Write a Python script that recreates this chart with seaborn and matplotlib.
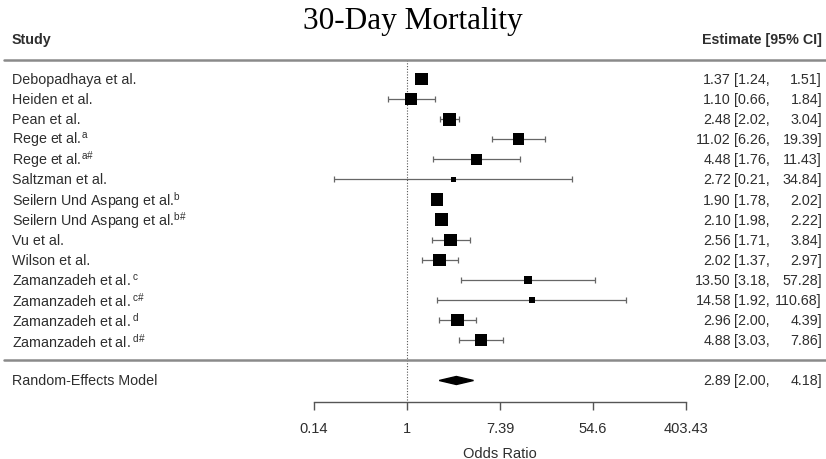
import numpy as np
import pandas as pd
import seaborn as sns
import matplotlib.pyplot as plt
import matplotlib.transforms as mtransforms
from matplotlib.patches import Polygon

studies = [
    "Debopadhaya et al.",
    "Heiden et al.",
    "Pean et al.",
    "Rege et al.$^{a}$",
    "Rege et al.$^{a\\#}$",
    "Saltzman et al.",
    "Seilern Und Aspang et al.$^{b}$",
    "Seilern Und Aspang et al.$^{b\\#}$",
    "Vu et al.",
    "Wilson et al.",
    "Zamanzadeh et al.$^{\\ c}$",
    "Zamanzadeh et al.$^{\\ c\\#}$",
    "Zamanzadeh et al.$^{\\ d}$",
    "Zamanzadeh et al.$^{\\ d\\#}$",
]
est = [1.37, 1.10, 2.48, 11.02, 4.48, 2.72, 1.90, 2.10, 2.56, 2.02, 13.50, 14.58, 2.96, 4.88]
lo = [1.24, 0.66, 2.02, 6.26, 1.76, 0.21, 1.78, 1.98, 1.71, 1.37, 3.18, 1.92, 2.00, 3.03]
hi = [1.51, 1.84, 3.04, 19.39, 11.43, 34.84, 2.02, 2.22, 3.84, 2.97, 57.28, 110.68, 4.39, 7.86]
weight = [8.4, 8.0, 9.6, 7.8, 6.6, 1.5, 8.6, 8.6, 8.8, 8.8, 3.2, 2.4, 8.6, 8.4]

re_label = "Random-Effects Model"
re_est, re_lo, re_hi = 2.89, 2.00, 4.18

tick_vals = [-2, 0, 2, 4, 6]
tick_labels = ["0.14", "1", "7.39", "54.6", "403.43"]

df = pd.DataFrame({"study": studies, "est": est, "lo": lo, "hi": hi, "weight": weight})
df["row"] = np.arange(len(df))
df["lest"] = np.log(df.est)
df["llo"] = np.log(df.lo)
df["lhi"] = np.log(df.hi)
re_row = len(df) + 1

sns.set_style("white")
plt.rcParams["font.family"] = ["Liberation Sans", "DejaVu Sans"]
plt.rcParams["mathtext.fontset"] = "custom"
plt.rcParams["mathtext.rm"] = "Liberation Sans"
plt.rcParams["mathtext.it"] = "Liberation Sans"

txt = "#2e2e2e"
fs = 10.3
fig = plt.figure(figsize=(8.26, 4.60), dpi=100)
ax = fig.add_axes([314 / 826, 57 / 460, 372 / 826, 403 / 460])
ax.set_xlim(-2, 6)
ax.set_ylim(16.07, -3.98)

# reference line at OR = 1
ax.vlines(0, -0.95, 16.07, colors="#555555", linestyles=(0, (1, 1.5)), lw=0.8)

# confidence intervals
ax.errorbar(
    df.lest, df.row,
    xerr=[df.lest - df.llo, df.lhi - df.lest],
    fmt="none", ecolor="#666666", elinewidth=0.9, capsize=2.2, capthick=0.9,
)
sns.scatterplot(
    data=df, x="lest", y="row", size="weight", sizes=(10, 90),
    marker="s", color="black", edgecolor="black", linewidth=0,
    legend=False, ax=ax, zorder=3,
)

# summary diamond
l_re = np.log([re_lo, re_est, re_hi])
ax.add_patch(Polygon(
    [(l_re[0], re_row), (l_re[1], re_row - 0.2), (l_re[2], re_row), (l_re[1], re_row + 0.2)],
    closed=True, color="black",
))

# axis styling
for s in ["top", "left", "right"]:
    ax.spines[s].set_visible(False)
ax.spines["bottom"].set_bounds(-2, 6)
ax.spines["bottom"].set_color("#555555")
ax.spines["bottom"].set_linewidth(1.0)
ax.set_yticks([])
ax.set_xticks(tick_vals)
ax.set_xticklabels(tick_labels, fontsize=10.5, color=txt)
ax.tick_params(axis="x", bottom=True, direction="out", length=5.5, width=1,
               color="#555555", pad=8)
ax.set_xlabel("Odds Ratio", fontsize=10.5, color=txt, labelpad=8)
ax.set_ylabel("")

# text columns
trans = mtransforms.blended_transform_factory(fig.transFigure, ax.transData)
for _, r in df.iterrows():
    ax.text(12 / 826, r.row, r.study, transform=trans, ha="left", va="center",
            fontsize=fs, color=txt, clip_on=False)
    ax.text(731 / 826, r.row, f"{r.est:.2f}", transform=trans, ha="right", va="center",
            fontsize=fs, color=txt, clip_on=False)
    ax.text(734 / 826, r.row, f"[{r.lo:.2f},", transform=trans, ha="left", va="center",
            fontsize=fs, color=txt, clip_on=False)
    ax.text(822 / 826, r.row, f"{r.hi:.2f}]", transform=trans, ha="right", va="center",
            fontsize=fs, color=txt, clip_on=False)

ax.text(12 / 826, re_row, re_label, transform=trans, ha="left", va="center",
        fontsize=fs, color=txt, clip_on=False)
ax.text(731 / 826, re_row, f"{re_est:.2f}", transform=trans, ha="right", va="center",
        fontsize=fs, color=txt, clip_on=False)
ax.text(734 / 826, re_row, f"[{re_lo:.2f},", transform=trans, ha="left", va="center",
        fontsize=fs, color=txt, clip_on=False)
ax.text(822 / 826, re_row, f"{re_hi:.2f}]", transform=trans, ha="right", va="center",
        fontsize=fs, color=txt, clip_on=False)

ax.text(12 / 826, -2, "Study", transform=trans, ha="left", va="center",
        fontsize=fs, fontweight="bold", color=txt, clip_on=False)
ax.text(822 / 826, -2, "Estimate [95% CI]", transform=trans, ha="right", va="center",
        fontsize=fs, fontweight="bold", color=txt, clip_on=False)

# separators
for yy in [-0.95, 13.97]:
    ax.plot([4 / 826, 1.0], [yy, yy], transform=trans, color="#8a8a8a",
            lw=1.8, clip_on=False)

fig.text(0.5, 1 - 21 / 460, "30-Day Mortality", ha="center", va="center",
         fontsize=22.5, family="Liberation Serif", color="black")

fig.savefig("out.png", dpi=100)
